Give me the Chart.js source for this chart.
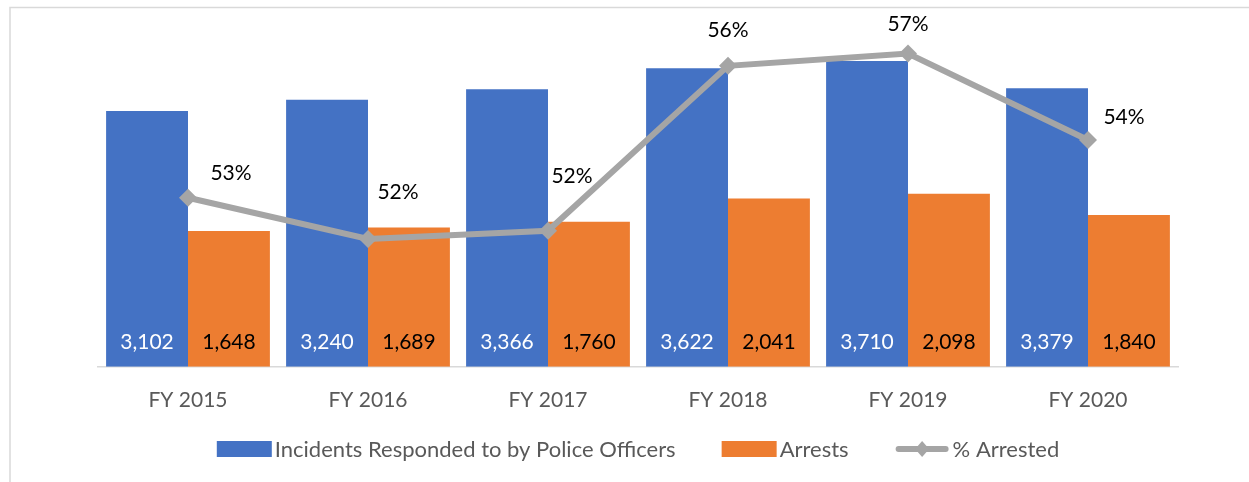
<!DOCTYPE html>
<html>
<head>
<meta charset="utf-8">
<script src="https://cdn.jsdelivr.net/npm/chart.js@4"></script>
<style>
  body { margin: 0; background: #fff; }
</style>
</head>
<body>
<canvas id="myChart" width="1249" height="482"></canvas>
<script>
const years = ['FY 2015', 'FY 2016', 'FY 2017', 'FY 2018', 'FY 2019', 'FY 2020']
const incidents = [3102, 3240, 3366, 3622, 3710, 3379]
const arrests = [1648, 1689, 1760, 2041, 2098, 1840]
const pctArrested = [0.531, 0.521, 0.523, 0.563, 0.566, 0.545]
const pctLabels = ['53%', '52%', '52%', '56%', '57%', '54%']

const FONT = 'Lato, "Open Sans", sans-serif'

const framePlugin = {
  id: 'frame',
  beforeDraw(chart) {
    const c = chart.ctx
    c.save()
    c.strokeStyle = '#D9D9D9'
    c.lineWidth = 1.5
    c.beginPath()
    c.moveTo(10, 482)
    c.lineTo(10, 7.5)
    c.lineTo(1249, 7.5)
    c.stroke()
    c.restore()
  }
}

const valueLabels = {
  id: 'valueLabels',
  afterDatasetsDraw(chart, args, opts) {
    const c = chart.ctx
    c.save()
    c.font = '21px ' + FONT
    c.textAlign = 'center'
    c.textBaseline = 'middle'
    // numbers at the foot of the bars
    ;[0, 1].forEach(function(di) {
      const meta = chart.getDatasetMeta(di)
      c.fillStyle = di === 0 ? '#FFFFFF' : '#000000'
      meta.data.forEach(function(el, i) {
        const v = chart.data.datasets[di].data[i]
        c.fillText(v.toLocaleString('en-US'), el.x, el.base - 25)
      })
    })
    // percentages next to the line points
    const lmeta = chart.getDatasetMeta(2)
    c.fillStyle = '#000000'
    lmeta.data.forEach(function(el, i) {
      const off = opts.offsets[i]
      c.fillText(pctLabels[i], el.x + off[0], el.y + off[1])
    })
    c.restore()
  }
}

// legend drawn by hand so the spacing can follow the original
const bottomLegend = {
  id: 'bottomLegend',
  afterDraw(chart, args, opts) {
    const c = chart.ctx
    const ds = chart.data.datasets
    c.save()
    c.font = '22px ' + FONT
    c.textBaseline = 'middle'
    const boxW = 55, boxH = 16, gap = 3, spacing = 46
    let total = 0
    ds.forEach(function(d, i) {
      total += boxW + gap + c.measureText(d.label).width
      if (i < ds.length - 1) total += spacing
    })
    const y = opts.y
    let x = (chart.chartArea.left + chart.chartArea.right) / 2 - total / 2
    ds.forEach(function(d, i) {
      if (d.type === 'line') {
        c.strokeStyle = d.borderColor
        c.lineWidth = 6
        c.lineCap = 'round'
        c.beginPath()
        c.moveTo(x + 4, y)
        c.lineTo(x + boxW - 4, y)
        c.stroke()
        c.fillStyle = d.borderColor
        const cx = x + boxW / 2
        c.beginPath()
        c.moveTo(cx, y - 8)
        c.lineTo(cx + 7, y)
        c.lineTo(cx, y + 8)
        c.lineTo(cx - 7, y)
        c.closePath()
        c.fill()
      } else {
        c.fillStyle = d.backgroundColor
        c.fillRect(x, y - boxH / 2, boxW, boxH)
      }
      x += boxW + gap
      c.fillStyle = '#595959'
      c.fillText(d.label, x, y + 1)
      x += c.measureText(d.label).width + spacing
    })
    c.restore()
  }
}

const ctx = document.getElementById('myChart').getContext('2d')
const myChart = new Chart(ctx, {
  type: 'bar',
  data: {
    labels: years,
    datasets: [
      {
        label: 'Incidents Responded to by Police Officers',
        data: incidents,
        backgroundColor: '#4472C4',
        yAxisID: 'y',
        order: 1,
        categoryPercentage: 0.91,
        barPercentage: 1.0
      },
      {
        label: 'Arrests',
        data: arrests,
        backgroundColor: '#ED7D31',
        yAxisID: 'y',
        order: 1,
        categoryPercentage: 0.91,
        barPercentage: 1.0
      },
      {
        type: 'line',
        label: '% Arrested',
        data: pctArrested,
        borderColor: '#A5A5A5',
        backgroundColor: '#A5A5A5',
        borderWidth: 6,
        pointStyle: 'rectRot',
        pointRadius: 9,
        pointBorderWidth: 0,
        yAxisID: 'y1',
        order: 0,
        tension: 0
      }
    ]
  },
  options: {
    responsive: false,
    animation: false,
    layout: {
      padding: { left: 98, right: 71, top: 37, bottom: 56 }
    },
    scales: {
      x: {
        grid: { display: false },
        border: { display: true, color: '#D9D9D9', width: 1.5 },
        ticks: {
          color: '#595959',
          font: { family: FONT, size: 21 },
          padding: 13
        }
      },
      y: {
        display: false,
        min: 0,
        max: 4000
      },
      y1: {
        display: false,
        min: 0.49,
        max: 0.57
      }
    },
    plugins: {
      tooltip: { enabled: false },
      legend: { display: false },
      bottomLegend: { y: 449 },
      valueLabels: {
        offsets: [[43, -25], [30, -47], [24, -55], [0, -36], [0, -29], [36, -23]]
      }
    }
  },
  plugins: [framePlugin, valueLabels, bottomLegend]
})
</script>
</body>
</html>
